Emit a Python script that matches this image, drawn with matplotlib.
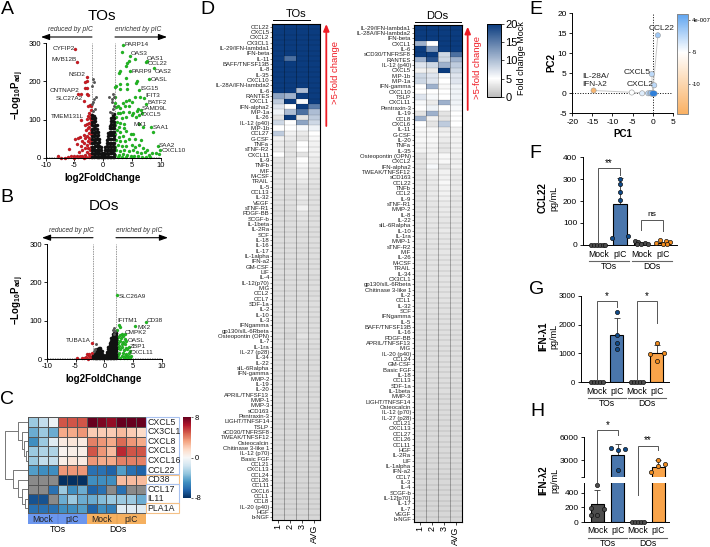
import numpy as np
import matplotlib
matplotlib.use('Agg')
import matplotlib.pyplot as plt
from matplotlib.cm import ScalarMappable
from matplotlib.colors import LinearSegmentedColormap, Normalize
from matplotlib.patches import Rectangle

plt.rcParams['font.family'] = ['Liberation Sans', 'DejaVu Sans']
plt.rcParams['mathtext.fontset'] = 'custom'
plt.rcParams['mathtext.rm'] = 'Liberation Sans'
plt.rcParams['mathtext.bf'] = 'Liberation Sans:bold'
plt.rcParams['axes.linewidth'] = 0.7
plt.rcParams['axes.unicode_minus'] = False

W, H = 710, 547

# ---- volcano TOs
TOS_RED = [(-4.9,284),(-4.6,250),(-2.8,211),(-2.9,202),(-3.1,197),(-3.2,183),(-2.9,183),(-2.9,167),(-2.6,165),(-3.9,168),
           (-4.4,168),(-3.3,150),(-2.3,137),(-2.1,135),(-2.6,135),(-3.9,100),(-2.2,125),(-2.4,118),(-2.1,112),(-2.3,105),
           (-2.6,110),(-2.8,102),(-2.2,98),(-2.5,92),(-2.9,90),(-3.2,85),(-2.1,88),(-2.4,82),(-2.7,78),(-3.0,72),
           (-2.2,72),(-2.5,65),(-3.4,60),(-2.1,62),(-2.8,58),(-3.1,52),(-2.4,52),(-2.1,48),(-2.6,44),(-3.6,45),
           (-4.0,55),(-4.4,52),(-4.9,50),(-3.3,40),(-2.3,38),(-2.9,35),(-3.8,32),(-4.5,36),(-2.1,30),(-2.6,26),
           (-3.2,26),(-3.6,20),(-2.3,20),(-2.9,16),(-4.2,15),(-6,24),(-2.1,10),(-2.5,10),(-3.1,8),(-3.6,6),
           (-4.1,5),(-4.6,6),(-5.1,4),(-5.6,5),(-6.2,2),(-6.6,1),(-7.9,6),(-7.4,1),(-3,2),(-2.5,3),
           (-2.2,3),(-3.4,1),(-4.3,2),(-5,1)]
TOS_GREEN = [(3.5,294),(3.2,277),(4.6,267),(5.5,259),(4.5,254),(4.1,249),(3.9,241),(7.4,250),(7.6,252),(8.8,234),
             (4.7,228),(2.7,221),(3,227),(7.9,207),(3.9,208),(5.9,201),(5.7,195),(4.1,193),(3,193),(2.3,189),
             (2,184),(3,180),(4.1,180),(6.3,178),(5.6,160),(6.4,158),(7.1,156),(7.5,141),(4.5,152),(4,148),
             (3.5,143),(2.6,135),(3,131),(3.8,135),(2.3,133),(2,160),(2.1,143),(5,145),(4.5,135),(6,128),
             (6.5,125),(5.8,122),(6.8,118),(5.2,118),(5,112),(4.4,120),(3.5,120),(3,118),(2.5,118),(2.2,108),
             (3.2,105),(4,108),(5.7,108),(6.2,112),(2.4,95),(3,92),(3.6,90),(2,85),(2.7,82),(3.6,78),
             (6.3,88),(7,80),(8.3,80),(8.6,68),(4,70),(4.9,62),(5.2,62),(2.4,72),(3,68),(2.1,62),
             (2.8,55),(3.5,58),(2.2,48),(3,45),(3.8,45),(4.5,50),(5.5,50),(6.6,48),(2.5,35),(3.2,32),
             (2.0,30),(4.0,32),(5,35),(5.6,28),(6.2,35),(6.9,25),(7.6,22),(9.5,31),(9.8,22),(2.3,20),
             (3,18),(3.7,22),(4.4,18),(5.2,20),(5.9,15),(6.5,12),(7.2,16),(7.9,8),(8.5,12),(9.1,12),
             (9.7,10),(2.1,8),(2.8,8),(3.4,10),(4.1,8),(4.8,6),(5.4,5),(6.1,5),(6.8,3),(7.5,3),
             (8.2,3),(2.5,2),(3.2,2),(4,2),(5,2)]
TOS_GRAY = [(-1.74,206),(-1.57,197),(-2,188),(-1.28,160),(-1.57,154),(-1.86,147),(-1.9,140),(-1.5,128),(-1.75,122),
            (1.04,159),(1.45,153),(1.6,147),(1.85,160),(1.7,168),(1.9,135),(1.2,120),(1.75,127),(1.5,118)]
# black cloud, x: y values
TOS_BLACK = {-1.9: [3,12,21,30,40,49,58,67,76,85,95,104,113], -1.65: [2,11,20,29,38,48,57,66,75,84,93,103,110],
             -1.4: [4,13,22,31,41,50,59,68,78,87,96,104], -1.15: [3,12,21,31,40,49,58,68,76,85], -0.9: [2,11,20,30,39,49,59,68],
             -0.65: [3,12,22,32,41,50], -0.4: [2,11,21,30], -0.15: [2,7,13],
             0.15: [2,6,12], 0.4: [2,11,20,29], 0.65: [3,12,22,31,40,48], 0.9: [2,11,21,30,40,50,58,66], 1.15: [3,12,21,31,40,50,60,69,77,84],
             1.4: [2,12,21,30,40,49,59,68,78,88,97,104], 1.65: [3,12,21,31,40,50,59,69,78,87,97,106,112],
             1.9: [2,11,21,30,39,49,58,67,77,86,95,104,114]}
TOS_LABELS = [('CYFIP2',63.3,48),('MVB12B',64,59.3),('NSD2',77.3,75),('CNTNAP2',64.3,90.3),('SLC27A2',69.3,98.3),
              ('TMEM131L',67.7,116),('PARP14',136.7,44.3),('OAS3',139.3,53.7),('OAS1',155.3,58),('CCL22',158,63.7),
              ('PARP9',141.7,71.3),('OAS2',163.3,71.3),('OASL',159.3,79.7),('ISG15',149.3,89),('IFIT3',152.7,95.7),
              ('BATF2',157.3,102.7),('SAMD9L',154.7,108.7),('CXCL5',150.7,114.7),('MX1',140.3,124),('SAA1',161.3,127.3),
              ('SAA2',166.7,145.3),('CXCL10',173.3,150.7)]

# ---- volcano DOs
DOS_RED = [(-2.2,42),(-4.7,2),(-3.8,2),(-3,12),(-2.2,16),(-2.6,8),(-3.2,4),(-2.4,3),(-2.9,1),(-2.1,7),(-2.7,14),(-3.5,2)]
DOS_GREEN = [(2.25,166),(7.2,96),(5.3,85),(2.5,89),(2.8,83),(2.2,75),(2.1,68),(3.5,66),(3.0,65),(2.7,63),
             (3.3,60),(2.3,58),(2.9,55),(3.5,52),(2.2,50),(2.7,48),(3.2,45),(3.7,48),(2.4,42),(3,40),
             (3.5,38),(2.1,38),(2.6,34),(3.1,32),(4.2,32),(3.7,30),(2.3,28),(2.8,25),(3.4,24),(4.0,26),
             (4.4,22),(2.1,20),(2.6,16),(3.2,16),(3.7,14),(4.3,16),(2.4,10),(3.0,8),(3.6,7),(4.1,8),
             (4.7,7),(2.2,5),(2.8,3),(3.4,3),(4,3),(4.5,3)]
DOS_GRAY = [(-1.45,40),(-1.55,27),(-1.75,21),(1.7,80),(1.5,76),(1.85,72),(1.6,66)]
DOS_BLACK = {-1.95: [2,7], -1.7: [2,7,12], -1.45: [2,7,13,18], -1.2: [2,8,14,19,25], -0.95: [2,7,13,19,24,30],
             -0.7: [2,8,13,19,25,30], -0.45: [2,8,14,20], -0.2: [2,5,10],
             0.2: [2,5,10], 0.45: [2,8,13,19], 0.7: [2,7,13,19,25,31], 0.95: [2,8,14,20,26,32,36,42], 1.2: [2,7,13,19,25,31,37,43,48,54],
             1.45: [2,8,14,20,26,32,38,44,50,55,60,66], 1.7: [3,9,15,21,27,33,39,45,51,57,62,68],
             1.95: [2,8,14,20,26,32,38,44,50,56,62,68]}
DOS_LABELS = [('SLC26A9',132,296),('CD38',155,320),('MX2',144,327.3),('IFITM1',127.7,320.3),('CMPK2',136,332.3),
              ('OASL',136,340),('ZBP1',138.3,346),('CXCL11',142,353),('TUBA1A',78.7,340.7)]

# ---- panel C
C_GENES = ['CXCL5','CX3CL1','CXCL8','CXCL3','CXCL16','CCL22','CD38','CCL17','IL11','PLA1A']
C_VALUES = [[-3,-2,-0.5,5,5,5,8,7.5,7,8,8,8],
            [-4,-3,-4,3,3,3.5,2,2,2,2.5,2,1.5],
            [-5,-3,-1,0.7,1,0.7,4,3.5,3,4.5,3.5,3],
            [-3,-2.5,-2.5,0.3,0.5,0.5,5,3.5,2.5,6,5,5],
            [-3,-2,-2,0.5,1,0.7,3.5,3,3,4,4,4],
            [-4.5,-5,-5,3.5,3.5,3.5,-6,-6,-6.5,-4.5,-6,-6.5],
            [np.nan,np.nan,np.nan,-8,-8,-8,-5,-5,-5,2.5,2.5,2.5],
            [np.nan,np.nan,-6,-3,-5,-4,-6.5,-6,np.nan,-6,np.nan,np.nan],
            [-7,-7,np.nan,-4,-3,-4,-4,-3.5,-3,-3,-3,-4],
            [-6,-6,-6,-5,-5,-4.5,-6.5,-5,-5.5,-1,-1,-1]]
# merges: y of both children, distance of both children, distance of the join (rows counted from top, distance 0 = leaves)
C_TREE = [(3.5,4.5,0,0,8),(2.5,4,0,8,13),(1.5,3.25,0,13,20),(0.5,2.4,0,20,30),
          (8.5,9.5,0,0,10),(7.5,9,0,10,18),(6.5,8.25,0,18,30),(5.5,7.4,0,30,47),(1.45,6.45,30,47,70)]

# ---- panel D
TOS_NAMES = ['CCL22','CXCL5','CXCL2','CX3CL1','IL-29/IFN-lambda1','IFN-beta','IL-11','BAFF/TNFSF13B','IL-8','IL-35','CXCL10',
             'IL-28A/IFN-lambda2','IL-6','RANTES','CXCL1','IFN-alpha2','MIP-1a','IL-26','IL-12 (p40)','MIP-1b','CCL27','G-CSF',
             'TNFa','sTNF-R2','CXCL11','IL-9','TNFb','MIF','M-CSF','TRAIL','IL-5','CCL13','IL-32','VEGF','sTNF-R1','PDGF-BB',
             'SCGF-b','IL-1beta','IL-2Ra','SCF','IL-18','IL-16','IL-17','IL-1alpha','IFN-a2','GM-CSF','LIF','IL-4','IL-12(p70)',
             'MIG','CCL2','CCL7','SDF-1a','IL-2','IL-10','IL-3','IFNgamma','gp130/sIL-6Rbeta','Osteopontin (OPN)','IL-7','IL-1ra',
             'IL-27 (p28)','IL-34','IL-22','sIL-6Ralpha','IFN-gamma','MMP-2','IL-19','IL-20','APRIL/TNFSF13','MMP-1','MMP-3',
             'sCD163','Pentraxin-3','LIGHT/TNFSF14','TSLP','sCD30/TNFRSF8','TWEAK/TNFSF12','Osteocalcin','Chitinase 3-like 1',
             'IL-12 (p70)','Basic FGF','CCL21','CXCL13','CCL24','CCL26','CCL11','CXCL6','CCL1','CCL8','IL-20 (p40)','HGF','b-NGF']
TOS_VALUES = [[20,20,20,20],[20,20,20,20],[20,20,20,20],[20,20,20,20],[20,20,20,20],[20,20,20,20],[20,16,20,20],[20,20,20,20],
              [20,20,20,20],[20,20,20,20],[20,20,20,20],[20,20,20,20],[20,20,10,20],[12,11,20,20],[9,20,5.5,20],[7,5,20,15],
              [6,10,16,10],[3,20,3,9],[8,5,12,8],[5,5,5.5,6],[9,4,3.5,5],[4,3.5,3,4.5],[3.5,3,5,4],[3.5,3,5,4],[5,3,3,4],
              [3,3,5,3.5],[3,3,4.5,3.5],[3,3,4,3],[3,3,4,3],[3,3,3.5,3],[3,2.8,3,2.8],[2.8,2.8,3,2.8],[2.8,2.5,3.5,2.8],
              [2.8,2.8,3,2.8],[2.5,2.5,4,2.8],[2.5,2.5,3,2.6],[2.6,2.5,3,2.6],[2.6,2.5,2.8,2.6],[2.5,2.5,2.6,2.5],[2.5,2.5,2.6,2.5],
              [2.5,2.5,2.6,2.5],[2.5,2.6,2.5,2.5],[2.5,2.5,2.5,2.5],[2.5,2.5,2.6,2.5],[2.5,2.5,2.5,2.5],[2.5,2.4,2.5,2.5],
              [2.5,2.5,2.5,2.5],[2.4,2.5,2.5,2.4],[2.5,2.5,2.5,2.5],[2.5,2.4,2.5,2.5],[2.5,2.5,2.5,2.4],[2.5,2.5,2.5,2.5],
              [2.5,2.4,2.5,2.5],[2.5,2.5,2.5,2.5],[2.5,2.5,2.6,2.5],[2.4,2.5,2.5,2.4],[2.5,2.5,2.5,2.5],[2.5,2.4,2.6,2.5],
              [2.5,2,3,2.5],[2.5,2.5,2.6,2.5],[2.4,2.5,2.5,2.4],[2.4,2.4,2.5,2.4],[2.4,2.4,2.5,2.4],[2.4,2.4,2.4,2.4],
              [2.4,2.4,2.4,2.4],[2.4,2.4,2.4,2.4],[2.3,2.4,2.4,2.3],[2.4,2.4,2.4,2.3],[2.3,2.4,2.3,2.3],[2.3,2.3,2.3,2.3],
              [2.3,2.3,2.4,2.3],[2.3,2.3,2.3,2.3],[2.3,2.3,2.3,2.3],[2.3,2.2,2.3,2.3],[2.2,2.3,2.3,2.2],[2.2,2.2,2.3,2.2],
              [2.3,2.2,2.2,2.2],[2.2,2.2,2.2,2.2],[2.2,2.2,2.2,2.2],[2.2,2.1,2.2,2.2],[2.2,2.2,2.2,2.1],[2.1,2.2,2.2,2.2],
              [2.2,2.1,2.1,2.1],[2.1,2.1,2.2,2.1],[2.1,2.1,2.1,2.1],[2.1,2.1,2.1,2.1],[2.1,2,2.1,2.1],[2,2.1,2.1,2],
              [2,2,2,2],[2,2,2.1,2],[2,2,2,2],[2,2,2,2],[2,2,2,2]]
DOS_NAMES = ['IL-29/IFN-lambda1','IL-28A/IFN-lambda2','IFN-beta','CXCL1','IL-6','sCD30/TNFRSF8','RANTES','IL-12 (p40)','CXCL5',
             'MIP-1b','MIP-1a','IFN-gamma','CXCL10','TSLP','CXCL11','Pentraxin-3','IL-19','CCL8','CXCL6','IL-11','G-CSF','IL-20',
             'TNFa','IL-35','Osteopontin (OPN)','CXCL2','IFN-alpha2','TWEAK/TNFSF12','sCD163','CCL22','TNFb','CCL2','IL-9',
             'sTNF-R1','MMP-2','IL-8','IL-22','sIL-6Ralpha','IL-10','IL-1ra','MMP-1','sTNF-R2','MIF','IL-26','M-CSF','TRAIL','IL-34',
             'CX3CL1','gp130/sIL-6Rbeta','Chitinase 3-like 1','IL-2','CCL1','IL-32','SCF','IFNgamma','IL-5','BAFF/TNFSF13B','IL-16',
             'PDGF-BB','APRIL/TNFSF13','MIG','IL-20 (p40)','CCL24','GM-CSF','Basic FGF','IL-18','CCL13','SDF-1a','IL-1beta','MMP-3',
             'LIGHT/TNFSF14','Osteocalcin','IL-12 (p70)','IL-27 (p28)','CCL21','CXCL13','CCL27','CCL26','CCL11','HGF','IL-2Ra','LIF',
             'IL-1alpha','IFN-a2','CCL7','IL-3','IL-4','SCGF-b','IL-12[p70]','IL-17','IL-7','VEGF','b-NGF']
DOS_VALUES = [[20,20,20,20],[20,20,20,20],[20,20,20,20],[11,5,20,20],[20,13,20,20],[20,20,8,16],[11,18,8,11],[7,8,11,9],
              [4,3.5,20,8],[8,7,5.5,7],[8,7,5,7],[5,11,4.5,6],[5,5,5,6],[7,5.5,5,6],[5.5,3.5,11,6],[5,6,5,5.5],[3,11,3,5],
              [11,4,3,5],[5,3,9,5],[4.5,4.5,3.5,4],[4.5,4.5,4,4.2],[4.5,4.5,3.5,4],[4.2,4.2,3.2,4],[4.2,4.2,3.2,4],
              [3,4,4.5,3.8],[3.2,4,4.5,3.8],[3,5.5,3,4],[3.2,3.8,4,3.5],[3.2,3.5,4,3.4],[3.2,3.4,4.5,3.4],[3.2,3.4,4,3.4],
              [3,3.4,4,3.4],[3,3.4,3.8,3.2],[3,3.2,3.5,3.2],[3,3.2,3.5,3.2],[3,3.2,3.4,3.2],[3,3.2,3.2,3.1],[3,3.2,3.2,3.1],
              [3,3.1,3.4,3.1],[3,3.1,3.2,3.1],[3,3.1,3.2,3],[2.9,3,3.2,3],[2.9,3,3.2,3],[2.9,3,3.1,3],[2.9,3,3.1,2.9],
              [2.9,3,3,2.9],[2.8,3,3,2.9],[2.8,2.9,3,2.9],[2.8,2.9,3,2.8],[2.8,2.9,2.9,2.8],[2.8,2.8,2.9,2.8],[2.7,2.8,2.9,2.8],
              [2.7,2.8,2.8,2.8],[2.7,2.8,2.8,2.7],[2.7,2.7,2.8,2.7],[2.7,2.7,2.8,2.7],[2.6,2.7,2.7,2.7],[2.6,2.7,2.7,2.6],
              [2.6,2.7,2.7,2.6],[2.6,2.6,2.7,2.6],[2.6,2.6,2.6,2.6],[2.5,2.6,2.6,2.6],[2.5,2.6,2.6,2.5],[2.5,2.5,2.6,2.5],
              [2.5,2.5,2.5,2.5],[2.5,2.5,2.5,2.5],[2.4,2.5,2.5,2.5],[2.4,2.5,2.5,2.4],[2.4,2.4,2.5,2.4],[2.4,2.4,2.4,2.4],
              [2.4,2.4,2.4,2.4],[2.3,2.4,2.4,2.4],[2.3,2.4,2.4,2.3],[2.3,2.3,2.4,2.3],[2.3,2.3,2.3,2.3],[2.3,2.3,2.3,2.3],
              [2.2,2.3,2.3,2.3],[2.2,2.3,2.3,2.2],[2.2,2.2,2.3,2.2],[2.2,2.2,2.2,2.2],[2.2,2.2,2.2,2.2],[2.1,2.2,2.2,2.2],
              [2.1,2.2,2.2,2.1],[2.1,2.1,2.2,2.1],[2.1,2.1,2.1,2.1],[2.1,2.1,2.1,2.1],[2,2.1,2.1,2.1],[2,2.1,2.1,2],
              [2,2,2.1,2],[2,2,2,2],[2,2,2,2],[2,2,2,2],[2,2,2,2]]
D_COLS = ['1','2','3','AVG']

# ---- panel E
PC1 = [1.3,-0.2,0.4,-14.7,-5.2,-2.6,-1.1,-0.6,-0.2,0.1,0.3,0.5,-0.4,0.0]
PC2 = [14.5,4.8,2.0,0.7,0.2,0.0,0.0,0.0,-0.1,-0.1,0.0,-0.1,0.1,0.0]
PC_VAL = [-1.5,-2.5,-2.5,-14.0,-5.0,-3.8,-2.5,-2,-1,-0.5,-0.5,-0.5,-1,-0.3]
PC_NAMES = ['CCL22','CXCL5','CXCL2']

# ---- bars
F_BARS = [0,185,8,10]
F_ERR = [0,120,3,4]
F_POINTS = [[0,0,0,0,0,0],[300,280,243,205,42,30],[18,12,10,5,3,2],[22,16,12,10,5,3]]
F_OFFSET = [[-.33,-.2,-.07,.07,.2,.33],[0,.02,.02,.02,.36,-.36],[-.3,-.15,.15,.3,0,-.2],[-.15,.15,.32,-.32,0,.2]]
G_BARS = [0,1650,0,1020]
G_ERR = [0,570,0,260]
G_POINTS = [[0,0,0,0,0],[2450,1650,1350,1170],[0,0,0,0,0],[1360,1020,980,730]]
G_OFFSET = [[-.3,-.15,0,.15,.3],[0,0,0,0],[-.3,-.15,0,.15,.3],[0,.35,-.35,0]]
H_BARS = [250,3680,0,2180]
H_ERR = [180,1380,0,920]
H_POINTS = [[510,195,175,100,100],[4540,4280,4450,1750],[0,0,0,0,0],[3100,2500,1530,2300]]
H_OFFSET = [[0,-.33,.33,-.33,.0],[-.33,0,.35,0],[-.3,-.15,0,.15,.3],[0,.35,-.35,0]]
BAR_GROUPS = ['Mock','pIC','Mock','pIC']


def axpx(x0, y0, x1, y1, **kw):
    # axes from pixel box, y counted from the top
    return fig.add_axes([x0 / W, 1 - y1 / H, (x1 - x0) / W, (y1 - y0) / H], **kw)


def txt(x, y, s, size=5, ha='center', va='center', **kw):
    ov.text(x, y, s, fontsize=size, ha=ha, va=va, **kw)


def pairs(items):
    return [p[0] for p in items], [p[1] for p in items]


def volcano(ax, red, green, gray, black, labels):
    ax.set_xlim(-10, 10)
    ax.set_ylim(0, 300)
    ax.axvline(-2, color='#999999', lw=0.7, ls=(0, (1.5, 1)), zorder=1)
    ax.axvline(2, color='#999999', lw=0.7, ls=(0, (1.5, 1)), zorder=1)
    ax.axhline(3, color='#aaaaaa', lw=0.7, ls=(0, (1.5, 1)), zorder=1)
    x, y = pairs(red)
    ax.scatter(x, y, s=5, c='#cc1c24', edgecolors='#7d1218', lw=0.15, zorder=2, clip_on=False)
    x, y = pairs(green)
    ax.scatter(x, y, s=5, c='#22b822', edgecolors='#16801a', lw=0.15, zorder=2, clip_on=False)
    bx, by = [], []
    for k, ys in black.items():
        bx += [k] * len(ys)
        by += ys
    ax.scatter(bx, by, s=6.5, c='#111111', lw=0, zorder=3, clip_on=False)
    x, y = pairs(gray)
    ax.scatter(x, y, s=4.5, c='#555555', lw=0, zorder=3)
    ax.set_xticks([-10, -5, 0, 5, 10])
    ax.set_yticks([0, 100, 200, 300])
    ax.tick_params(labelsize=5.5, length=2.2, width=0.6, pad=1)
    ax.spines['top'].set_visible(False)
    ax.spines['right'].set_visible(False)
    for name, lx, ly in labels:
        txt(lx, ly, name, size=4.6, color='#222222')


def bar_panel(ax, vals, errs, points, offsets):
    colors = ['#4d4d4d', '#4a76ac', '#4d4d4d', '#f9a44a']
    dots = ['#4d4d4d', '#0f4c8c', '#4d4d4d', '#f28c1e']
    low, high = ax.get_ylim()
    for i in range(4):
        ax.bar(i, vals[i], width=0.64, color=colors[i], edgecolor='black', lw=0.8, zorder=2)
        if errs[i] > 0:
            ax.errorbar(i, vals[i], yerr=[[0], [errs[i]]], color='#333333', lw=0.6, capsize=2.5, capthick=0.6, zorder=1)
        # on a broken axis each part only shows the points inside its own range
        xs = np.array(offsets[i]) + i
        ys = np.array(points[i])
        keep = (ys >= low) & (ys <= high)
        ax.scatter(xs[keep], ys[keep], s=9, c=dots[i], edgecolors='#111111', lw=0.5, zorder=3, clip_on=False)
    ax.spines['top'].set_visible(False)
    ax.spines['right'].set_visible(False)
    ax.tick_params(axis='y', labelsize=6, length=2.5, width=0.6, pad=1.5)
    ax.tick_params(axis='x', length=0)


def bracket(x0, x1, top, y0, y1, label, label_y, size=6.5):
    ov.plot([x0, x0, x1, x1], [y0, top, top, y1], color='#555555', lw=0.7, solid_joinstyle='miter')
    txt((x0 + x1) / 2, label_y, label, size=size)


def group_labels(centers, line_y, text_y):
    for i, c in enumerate(centers):
        txt(c, line_y - 6.6, BAR_GROUPS[i], size=6.2)
    ov.plot([centers[0] - 9, centers[1] + 9], [line_y, line_y], color='#666666', lw=0.8)
    ov.plot([centers[2] - 9, centers[3] + 9], [line_y, line_y], color='#666666', lw=0.8)
    txt((centers[0] + centers[1]) / 2, text_y, 'TOs', size=6.2)
    txt((centers[2] + centers[3]) / 2, text_y, 'DOs', size=6.2)


fig = plt.figure(figsize=(W / 100, H / 100), dpi=100)
ov = axpx(0, 0, W, H, zorder=20)
ov.set_xlim(0, W)
ov.set_ylim(H, 0)
ov.axis('off')
ov.patch.set_alpha(0)

# panel letters
for s, x, y in [('A', 7, 10), ('B', 7, 198), ('C', 7, 400), ('D', 207, 10), ('E', 536, 10), ('F', 535, 154), ('G', 537, 289), ('H', 537, 411)]:
    txt(x, y, s, size=14)

# A and B
ax_a = axpx(45.7, 43, 160.7, 158)
volcano(ax_a, TOS_RED, TOS_GREEN, TOS_GRAY, TOS_BLACK, TOS_LABELS)
ax_b = axpx(46.7, 244, 162, 359)
volcano(ax_b, DOS_RED, DOS_GREEN, DOS_GRAY, DOS_BLACK, DOS_LABELS)
for title, tx, ty, ay, x_off, lab_y, xlab_y in [('TOs', 102, 16, 37, 0, 95, 178), ('DOs', 103.7, 206, 237.7, 1, 300, 379)]:
    txt(tx, ty, title, size=11)
    for x0, x1, s, cx in [(92, 41, 'reduced by pIC', 70.7), (115, 167, 'enriched by pIC', 137.7)]:
        ov.annotate('', xy=(x1 + x_off, ay), xytext=(x0 + x_off, ay),
                    arrowprops=dict(arrowstyle='-|>,head_width=0.18,head_length=0.5', color='black', lw=0.8, shrinkA=0, shrinkB=0))
        txt(cx + x_off, ay - 7.5, s, size=4.8, style='italic', color='#333333')
    txt(18, lab_y, r'$\mathbf{-Log_{10}P_{adj}}$', size=7, rotation=90)
    txt(103 + x_off, xlab_y, 'log2FoldChange', size=7, fontweight='bold')

# C
ax_c = axpx(28.3, 417.3, 145.5, 513.3)
c_cmap = plt.get_cmap('RdBu_r').copy()
c_cmap.set_bad('#8a8a8a')
c_mesh = ax_c.pcolormesh(np.ma.masked_invalid(np.array(C_VALUES)), cmap=c_cmap, vmin=-8, vmax=8,
                         edgecolors='#555555', linewidth=0.4)
ax_c.invert_yaxis()
ax_c.set_xticks([])
ax_c.set_yticks([])
for spine in ax_c.spines.values():
    spine.set_color('#555555')
for i, g in enumerate(C_GENES):
    txt(147.5, 417.3 + (i + 0.5) * 9.6, g, size=6.3, ha='left', color='#222222')
for y0, y1, col in [(416.7, 474.3, '#a9c2f0'), (475, 483.7, '#f5c187'), (484.3, 502.7, '#a9c2f0'), (503.2, 513.3, '#f5c187')]:
    ov.add_patch(Rectangle((145.7, y0), 33.6, y1 - y0, fill=False, edgecolor=col, lw=0.8))
for x0, x1, col, s in [(28.3, 57.7, '#6b96ee', 'Mock'), (57.7, 86.7, '#6b96ee', 'pIC'), (86.7, 116.7, '#f5b05f', 'Mock'), (116.7, 146, '#f5b05f', 'pIC')]:
    ov.add_patch(Rectangle((x0, 514), x1 - x0, 10, facecolor=col, edgecolor='none'))
    txt((x0 + x1) / 2, 519, s, size=6.2, color='#222222')
ov.plot([57.7, 57.7], [514, 524], color='#4a6fc0', lw=0.3)
ov.plot([116.7, 116.7], [514, 524], color='#c88f45', lw=0.3)
txt(58, 529, 'TOs', size=6.2)
txt(118, 529, 'DOs', size=6.2)
ax_tree = axpx(5, 417.3, 28.3, 513.3)
ax_tree.set_xlim(70, 0)
ax_tree.set_ylim(10, 0)
ax_tree.axis('off')
for ya, yb, da, db, dj in C_TREE:
    ax_tree.plot([da, dj, dj, db], [ya, ya, yb, yb], color='#777777', lw=0.7)
cax_c = axpx(182.7, 417, 191, 498)
cb_c = fig.colorbar(c_mesh, cax=cax_c, ticks=[-8, 0, 8])
cax_c.tick_params(labelsize=5.5, length=1.5, width=0.4, pad=1)
cb_c.outline.set_visible(False)

# D
d_cmap = LinearSegmentedColormap.from_list('fold', [(0, '#bdbdbd'), (0.25, '#ffffff'), (1, '#0b3c7f')])
d_norm = Normalize(0, 20)


def fold_heat(box, names, vals):
    ax = axpx(*box)
    ax.pcolormesh(np.array(vals, dtype=float), cmap=d_cmap, norm=d_norm)
    n = len(names)
    ax.hlines(np.arange(1, n), 0, 4, color='black', lw=0.3, alpha=0.28)
    ax.vlines([1, 2, 3], 0, n, color='black', lw=0.4, alpha=0.5)
    ax.set_ylim(n, 0)
    ax.set_yticks(np.arange(n) + 0.5)
    ax.set_yticklabels(names, fontsize=4.3)
    ax.set_xticks(np.arange(4) + 0.5)
    ax.set_xticklabels(D_COLS, fontsize=6.5, rotation=90)
    ax.tick_params(axis='y', length=1.5, width=0.4, pad=0.6, colors='#222222')
    ax.tick_params(axis='x', length=2, width=0.5, pad=1.2)
    for spine in ax.spines.values():
        spine.set_linewidth(0.8)
    return ax


fold_heat((272.3, 24, 320, 520), TOS_NAMES, TOS_VALUES)
fold_heat((414, 25, 461.7, 522), DOS_NAMES, DOS_VALUES)
txt(296, 14, 'TOs', size=8)
ov.plot([273, 310], [20, 20], color='black', lw=0.7)
txt(437.3, 15.7, 'DOs', size=8)
ov.plot([415, 461], [21.7, 21.7], color='black', lw=0.7)
for ax_x, y0, y1, tx, ty in [(326.3, 126, 24, 333, 73), (467.7, 110, 26.7, 475, 67.7)]:
    ov.annotate('', xy=(ax_x, y1), xytext=(ax_x, y0),
                arrowprops=dict(arrowstyle='-|>,head_width=0.17,head_length=0.4', color='#ee1c25', lw=1.3, shrinkA=0, shrinkB=0))
    txt(tx + 3, ty, '>5-fold change', size=6.8, color='#ee1c25', rotation=90)
cax_d = axpx(487, 24, 501, 96.7)
fig.colorbar(ScalarMappable(norm=d_norm, cmap=d_cmap), cax=cax_d, ticks=[0, 5, 10, 15, 20])
cax_d.tick_params(labelsize=8, length=2, width=0.5, pad=1)
txt(521, 58, 'Fold change Mock', size=6.5, rotation=90)

# E
ax_e = axpx(572.3, 13.3, 672.7, 113.3)
ax_e.set_xlim(-20, 5)
ax_e.set_ylim(-5, 20)
e_norm = Normalize(-14.7, 1)
e_cmap = LinearSegmentedColormap.from_list('pc', [(0, '#f9b063'), (0.618, '#ffffff'), (1, '#5ea4f0')])
ax_e.axvline(0, color='black', lw=0.7, ls=':', zorder=1)
ax_e.axhline(0, color='black', lw=0.7, ls=':', zorder=1)
for px, py in zip(PC1, PC2):
    ax_e.plot([0, px], [0, py], color='#c8c8c8', lw=0.7, zorder=2)
ax_e.scatter(PC1, PC2, s=14, c=PC_VAL, cmap=e_cmap, norm=e_norm, edgecolors='#999999', lw=0.4, zorder=3)
ax_e.scatter([0.0, 0.2, 0.4, -0.2], [0, 0, 0, 0], s=12, c='#2f7fd8', lw=0, zorder=4)
ax_e.spines['top'].set_visible(False)
ax_e.spines['right'].set_visible(False)
ax_e.set_xticks(range(-20, 6, 5))
ax_e.set_yticks(range(-5, 21, 5))
ax_e.tick_params(labelsize=6, length=2.5, width=0.6, pad=1.5)
for s, x, y in zip(PC_NAMES, [662, 637, 640], [28, 72, 84]):
    txt(x, y, s, size=6, color='#222222')
txt(595.7, 76.7, 'IL-28A/', size=6, color='#222222')
txt(595, 84.7, 'IFN-λ2', size=6, color='#222222')
txt(622.7, 134, 'PC1', size=7, fontweight='bold')
txt(551.7, 62.7, 'PC2', size=7, fontweight='bold', rotation=90)
cax_e = axpx(676.7, 14, 688.3, 114)
cb_e = fig.colorbar(ScalarMappable(norm=e_norm, cmap=e_cmap), cax=cax_e, ticks=[0, -5, -10])
cb_e.set_ticklabels(['4e-007', '-5', '-10'])
cax_e.tick_params(labelsize=4.3, length=1.5, width=0.4, pad=1)
cb_e.outline.set_edgecolor('#888888')

# F
sp = 21.5
ax_f = axpx(582.7, 157.3, 676.7, 244.7)
ax_f.set_xlim(-(598.3 - 582.7) / sp, 3 + (676.7 - 662.8) / sp)
ax_f.set_ylim(0, 400)
bar_panel(ax_f, F_BARS, F_ERR, F_POINTS, F_OFFSET)
ax_f.set_xticks([])
ax_f.set_yticks([0, 100, 200, 300, 400])
f_c = [598.3, 619.8, 641.3, 662.8]
group_labels(f_c, 260.7, 266.7)
bracket(f_c[0], f_c[1], 168.3, 243, 175, '**', 163.5, size=7)
bracket(f_c[2], f_c[3], 220.3, 230, 230.7, 'ns', 214, size=6)
txt(542.7, 198, 'CCL22', size=7, fontweight='bold', rotation=90)
txt(554, 198, 'pg/mL', size=6.5, rotation=90)

# G
sp = 20
ax_g = axpx(581, 295.7, 669, 382.3)
ax_g.set_xlim(-(596.7 - 581) / sp, 3 + (669 - 656.7) / sp)
ax_g.set_ylim(0, 3000)
bar_panel(ax_g, G_BARS, G_ERR, G_POINTS, G_OFFSET)
ax_g.set_xticks([])
ax_g.set_yticks([0, 1000, 2000, 3000])
ax_g.tick_params(axis='y', labelsize=5.6)
g_c = [596.7, 616.7, 636.7, 656.7]
group_labels(g_c, 398, 404)
bracket(g_c[0], g_c[1], 300.7, 380, 306.7, '*', 296.5, size=7)
bracket(g_c[2], g_c[3], 300.7, 380, 323, '*', 296.5, size=7)
txt(543, 336.7, 'IFN-λ1', size=7, fontweight='bold', rotation=90)
txt(553.5, 336.7, 'pg/mL', size=6.5, rotation=90)

# H, broken axis
sp = 20.3
h_xlim = (-(597.3 - 584.3) / sp, 3 + (669.3 - 658.2) / sp)
ax_h1 = axpx(584.3, 437, 669.3, 476.7)
ax_h2 = axpx(584.3, 483.3, 669.3, 522.3)
ax_h1.set_ylim(889, 6000)
ax_h2.set_ylim(0, 527)
for ax_h in (ax_h1, ax_h2):
    ax_h.set_xlim(*h_xlim)
    bar_panel(ax_h, H_BARS, H_ERR, H_POINTS, H_OFFSET)
    ax_h.set_xticks([])
ax_h1.spines['bottom'].set_visible(False)
ax_h1.set_yticks([889, 3000, 6000])
ax_h1.set_yticklabels(['', '3000', '6000'])
ax_h2.set_yticks([0, 200, 400])
h_c = [597.3, 617.6, 637.9, 658.2]
group_labels(h_c, 537.5, 543)
bracket(h_c[0], h_c[1], 430, 481.7, 435, '*', 425.5, size=7)
bracket(h_c[2], h_c[3], 445.7, 495, 450, '**', 440.5, size=7)
txt(543, 480, 'IFN-λ2', size=7, fontweight='bold', rotation=90)
txt(555, 480, 'pg/mL', size=6.5, rotation=90)

fig.savefig('out.png', dpi=100)
